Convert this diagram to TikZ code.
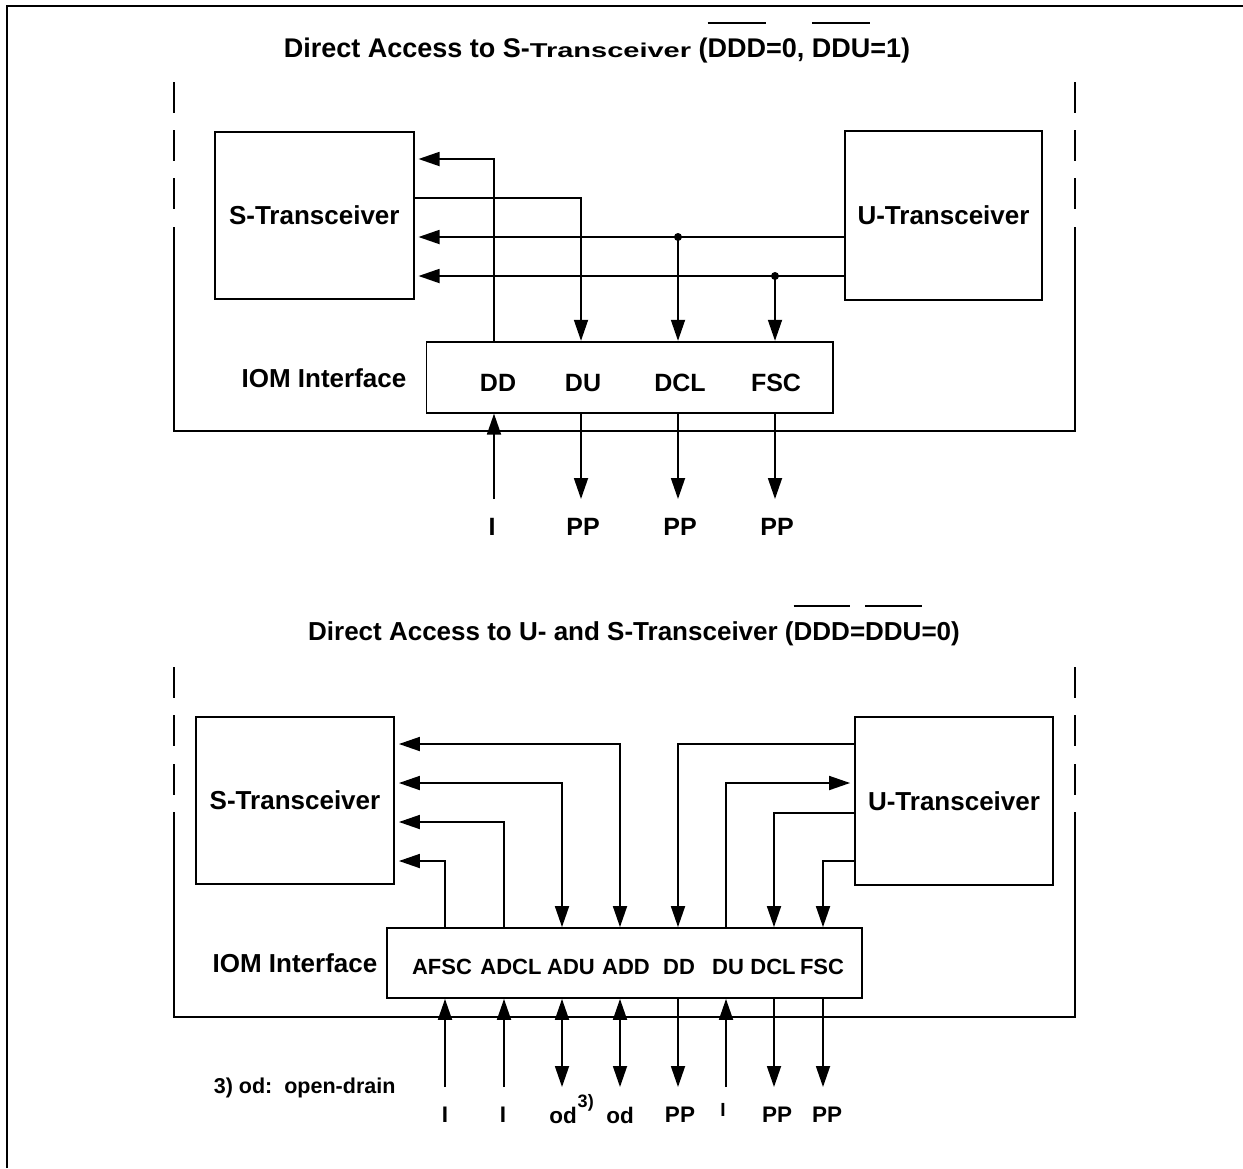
\documentclass[tikz,border=0pt]{standalone}
\usepackage{fontspec}
\setmainfont{Liberation Sans}
\usepackage{graphicx}
\usetikzlibrary{arrows.meta, calc}

\newcommand{\ovline}[1]{{\setbox0=\hbox{#1}\rlap{\rule[33pt]{\wd0}{1.6pt}}\box0}}

\begin{document}
\begin{tikzpicture}[
    x=1pt, y=-1pt,
    line width=1.8pt,
    >={Triangle[length=21pt, width=14pt]},
    blk/.style={
        draw,
        rectangle,
        line width=1.8pt,
        inner sep=0pt,
        font=\fontsize{26}{28}\selectfont\bfseries
    },
    port/.style={
        inner sep=0pt,
        font=\fontsize{25}{27}\selectfont\bfseries
    },
    portsm/.style={
        inner sep=0pt,
        font=\fontsize{22}{24}\selectfont\bfseries
    },
    pinlbl/.style={
        inner sep=0pt,
        font=\fontsize{22.5}{24}\selectfont\bfseries
    },
    heading/.style={
        anchor=base,
        inner sep=0pt,
        font=\fontsize{27}{30}\selectfont\bfseries
    },
    arr/.style={
        draw,
        ->,
        line width=1.8pt
    },
    dot/.style={
        circle,
        fill,
        inner sep=0pt,
        minimum size=8pt
    }
]
\useasboundingbox (0,0) rectangle (1243,1168);

% ================= OUTER FRAME =================
\draw (7,1168) -- (7,6) -- (1243,6);

% ================= TOP: S-TRANSCEIVER ONLY =================
\node[heading] (title1) at (597,57) {Direct Access to S-{\fontsize{20}{22}\selectfont\scalebox{1.45}[1]{Transceiver}} (\ovline{DDD}=0, \ovline{DDU}=1)};

\foreach \x in {174, 1075} {
    \foreach \y in {82, 130, 178} \draw (\x,\y) -- (\x,\y+31);
}
\draw (174,227) -- (174,431) -- (1075,431) -- (1075,227);

\node[blk, minimum width=198.6pt, minimum height=167.3pt] (sT) at (314.3,215.3) {S-Transceiver};
\node[blk, minimum width=197pt, minimum height=169pt] (uT) at (943.5,215.5) {U-Transceiver};
\node[blk, minimum width=406.5pt, minimum height=71pt] (iomT) at (629.8,377.2) {};
\node[blk, draw=none] (iomTlbl) at (324,378) {IOM Interface};

\node[port] (tDD) at (498,383) {DD};
\node[port] (tDU) at (583,383) {DU};
\node[port] (tDCL) at (680,383) {DCL};
\node[port] (tFSC) at (776,383) {FSC};

\foreach \n/\x in {DD/494, DU/581, DCL/678, FSC/775} \coordinate (tx\n) at (\x,0);
\foreach \n/\y in {DD/159, DU/198, DCL/237, FSC/276} \coordinate (ty\n) at (0,\y);
\foreach \n/\x in {DD/494, DU/581, DCL/678, FSC/775} \coordinate (te\n) at (\x,499);

\node[dot] (jDCL) at (txDCL |- tyDCL) {};
\node[dot] (jFSC) at (txFSC |- tyFSC) {};

\draw[arr, shorten >=4pt] (txDD |- iomT.north) |- (sT.east |- tyDD);
\draw[arr] (sT.east |- tyDU) -| (txDU |- iomT.north);
\draw[arr, shorten >=4pt] (uT.west |- tyDCL) -- (sT.east |- tyDCL);
\draw[arr, shorten >=4pt] (uT.west |- tyFSC) -- (sT.east |- tyFSC);
\draw[arr] (jDCL.center) -- (txDCL |- iomT.north);
\draw[arr] (jFSC.center) -- (txFSC |- iomT.north);

\draw[arr] (teDD) -- (txDD |- iomT.south);
\foreach \n in {DU, DCL, FSC} \draw[arr] (tx\n |- iomT.south) -- (te\n);

\node[port] (oDD) at (492,527) {I};
\node[port] (oDU) at (583,527) {PP};
\node[port] (oDCL) at (680,527) {PP};
\node[port] (oFSC) at (777,527) {PP};

% ================= BOTTOM: U- AND S-TRANSCEIVER =================
\node[heading, font=\fontsize{26}{28}\selectfont\bfseries] (title2) at (634,640) {Direct Access to U- and S-Transceiver (\ovline{DDD}=\ovline{DDU}=0)};

\foreach \x in {174, 1075} {
    \foreach \y in {667, 715, 764} \draw (\x,\y) -- (\x,\y+31);
}
\draw (174,812) -- (174,1017) -- (1075,1017) -- (1075,812);

\node[blk, minimum width=198pt, minimum height=167pt] (sB) at (295,800.5) {S-Transceiver};
\node[blk, minimum width=198pt, minimum height=168pt] (uB) at (954,801) {U-Transceiver};
\node[blk, minimum width=475pt, minimum height=70pt] (iomB) at (624.5,963) {};
\node[blk, draw=none] (iomBlbl) at (295,963) {IOM Interface};

\node[portsm] (bAFSC) at (442,967) {AFSC};
\node[portsm] (bADCL) at (511,967) {ADCL};
\node[portsm] (bADU) at (571,967) {ADU};
\node[portsm] (bADD) at (626,967) {ADD};
\node[portsm] (bDD) at (679,967) {DD};
\node[portsm] (bDU) at (728,967) {DU};
\node[portsm] (bDCL) at (773,967) {DCL};
\node[portsm] (bFSC) at (822,967) {FSC};

\foreach \n/\x in {AFSC/445, ADCL/504, ADU/562, ADD/620, DD/678, DU/726, DCL/774, FSC/823} {
    \coordinate (bx\n) at (\x,0);
    \coordinate (be\n) at (\x,1087);
}
\foreach \n/\y in {AFSC/861, ADCL/822, ADU/783, ADD/744, DD/744, DU/783, DCL/813, FSC/861} \coordinate (by\n) at (0,\y);

% S side
\draw[arr, shorten >=4pt] (bxAFSC |- iomB.north) |- (sB.east |- byAFSC);
\draw[arr, shorten >=4pt] (bxADCL |- iomB.north) |- (sB.east |- byADCL);
\draw[arr, <->, shorten <=4pt] (sB.east |- byADU) -| (bxADU |- iomB.north);
\draw[arr, <->, shorten <=4pt] (sB.east |- byADD) -| (bxADD |- iomB.north);
% U side
\draw[arr] (uB.west |- byDD) -| (bxDD |- iomB.north);
\draw[arr, shorten >=4pt] (bxDU |- iomB.north) |- (uB.west |- byDU);
\draw[arr] (uB.west |- byDCL) -| (bxDCL |- iomB.north);
\draw[arr] (uB.west |- byFSC) -| (bxFSC |- iomB.north);

% pins
\foreach \n in {AFSC, ADCL, DU} \draw[arr] (be\n) -- (bx\n |- iomB.south);
\foreach \n in {ADU, ADD} \draw[arr, <->] (bx\n |- iomB.south) -- (be\n);
\foreach \n in {DD, DCL, FSC} \draw[arr] (bx\n |- iomB.south) -- (be\n);

\node[pinlbl] (pAFSC) at (445,1115) {I};
\node[pinlbl] (pADCL) at (503,1115) {I};
\node[pinlbl] (pADU) at (563,1115) {od\rlap{\kern1pt\smash{\raisebox{16pt}{\fontsize{18}{19}\selectfont 3)}}}};
\node[pinlbl] (pADD) at (620,1115) {od};
\node[pinlbl] (pDD) at (680,1115) {PP};
\node[pinlbl, font=\fontsize{19}{20}\selectfont\bfseries] (pDU) at (723,1110) {I};
\node[pinlbl] (pDCL) at (777,1115) {PP};
\node[pinlbl] (pFSC) at (827,1115) {PP};

\node[anchor=base west, inner sep=0pt, font=\fontsize{21.5}{23}\selectfont\bfseries] (note) at (213,1093) {3) od:\ \ open-drain};

\end{tikzpicture}
\end{document}
